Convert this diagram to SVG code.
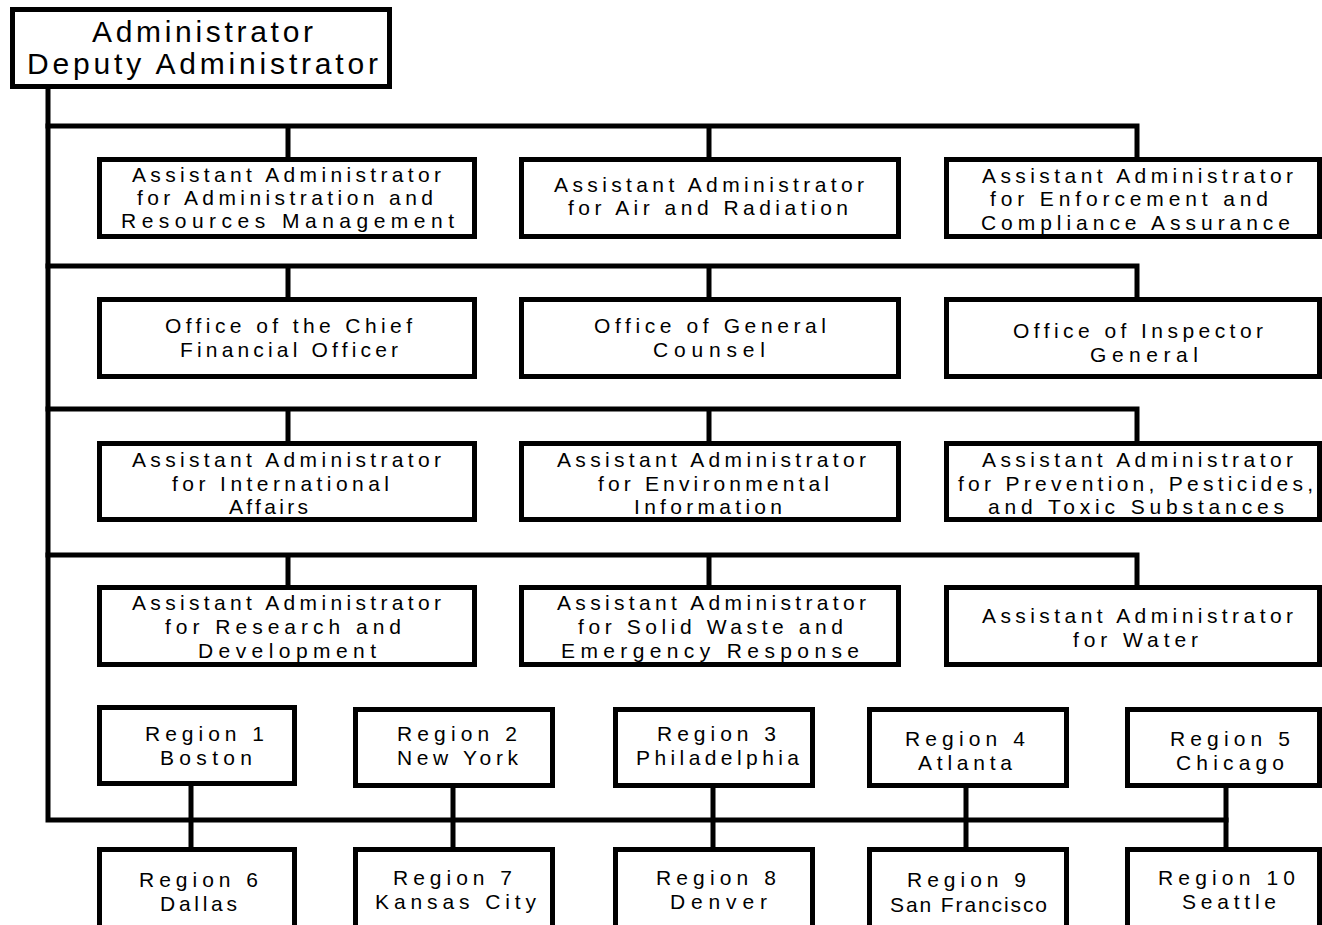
<svg xmlns="http://www.w3.org/2000/svg" width="1322" height="925" viewBox="0 0 1322 925">
<style>
.b{fill:#fff;stroke:#000;stroke-width:5}
.c{fill:none;stroke:#000;stroke-width:5;stroke-linecap:square}
.t{font-family:"Liberation Sans",Arial,sans-serif;font-size:21px;fill:#000}
.h{font-family:"Liberation Sans",Arial,sans-serif;font-size:30px;fill:#000}
</style>
<rect width="1322" height="925" fill="#fff"/>
<g id="connectors">
<path class="c" d="M48 89 V820 H1226"/>
<path class="c" d="M48 126 H1137 V157 M288 126 V157 M709 126 V157"/>
<path class="c" d="M48 266 H1137 V297 M288 266 V297 M709 266 V297"/>
<path class="c" d="M48 409 H1137 V441 M288 409 V441 M709 409 V441"/>
<path class="c" d="M48 555 H1137 V585 M288 555 V585 M709 555 V585"/>
<path class="c" d="M191 786 V847 M453 786 V847 M713 786 V847 M966 786 V847 M1226 786 V847"/>
</g>
<g id="admin">
<rect class="b" x="12.5" y="9.5" width="377" height="77"/>
<text class="h" x="92" y="42" textLength="221" lengthAdjust="spacing">Administrator</text>
<text class="h" x="27" y="74" textLength="351" lengthAdjust="spacing">Deputy Administrator</text>
</g>
<g id="aa-arm">
<rect class="b" x="99.5" y="159.5" width="375" height="77"/>
<text class="t" x="132" y="182" textLength="309" lengthAdjust="spacing">Assistant Administrator</text>
<text class="t" x="137" y="205" textLength="296" lengthAdjust="spacing">for Administration and</text>
<text class="t" x="121" y="228" textLength="333" lengthAdjust="spacing">Resources Management</text>
</g>
<g id="aa-air">
<rect class="b" x="521.5" y="159.5" width="377" height="77"/>
<text class="t" x="554" y="192" textLength="310" lengthAdjust="spacing">Assistant Administrator</text>
<text class="t" x="568" y="215" textLength="280" lengthAdjust="spacing">for Air and Radiation</text>
</g>
<g id="aa-eca">
<rect class="b" x="946.5" y="159.5" width="373" height="77"/>
<text class="t" x="982" y="183" textLength="311" lengthAdjust="spacing">Assistant Administrator</text>
<text class="t" x="990" y="206" textLength="278" lengthAdjust="spacing">for Enforcement and</text>
<text class="t" x="981" y="230" textLength="309" lengthAdjust="spacing">Compliance Assurance</text>
</g>
<g id="cfo">
<rect class="b" x="99.5" y="299.5" width="375" height="77"/>
<text class="t" x="165" y="333" textLength="247" lengthAdjust="spacing">Office of the Chief</text>
<text class="t" x="180" y="357" textLength="218" lengthAdjust="spacing">Financial Officer</text>
</g>
<g id="ogc">
<rect class="b" x="521.5" y="299.5" width="377" height="77"/>
<text class="t" x="594" y="333" textLength="232" lengthAdjust="spacing">Office of General</text>
<text class="t" x="653" y="357" textLength="112" lengthAdjust="spacing">Counsel</text>
</g>
<g id="oig">
<rect class="b" x="946.5" y="299.5" width="373" height="77"/>
<text class="t" x="1013" y="338" textLength="250" lengthAdjust="spacing">Office of Inspector</text>
<text class="t" x="1090" y="362" textLength="108" lengthAdjust="spacing">General</text>
</g>
<g id="aa-ia">
<rect class="b" x="99.5" y="443.5" width="375" height="76"/>
<text class="t" x="132" y="467" textLength="309" lengthAdjust="spacing">Assistant Administrator</text>
<text class="t" x="172" y="491" textLength="217" lengthAdjust="spacing">for International</text>
<text class="t" x="229" y="514" textLength="79" lengthAdjust="spacing">Affairs</text>
</g>
<g id="aa-ei">
<rect class="b" x="521.5" y="443.5" width="377" height="76"/>
<text class="t" x="557" y="467" textLength="309" lengthAdjust="spacing">Assistant Administrator</text>
<text class="t" x="598" y="491" textLength="231" lengthAdjust="spacing">for Environmental</text>
<text class="t" x="634" y="514" textLength="148" lengthAdjust="spacing">Information</text>
</g>
<g id="aa-ppts">
<rect class="b" x="946.5" y="443.5" width="373" height="76"/>
<text class="t" x="982" y="467" textLength="311" lengthAdjust="spacing">Assistant Administrator</text>
<text class="t" x="958" y="491" textLength="355" lengthAdjust="spacing">for Prevention, Pesticides,</text>
<text class="t" x="988" y="514" textLength="296" lengthAdjust="spacing">and Toxic Substances</text>
</g>
<g id="aa-rd">
<rect class="b" x="99.5" y="587.5" width="375" height="77"/>
<text class="t" x="132" y="610" textLength="309" lengthAdjust="spacing">Assistant Administrator</text>
<text class="t" x="165" y="634" textLength="236" lengthAdjust="spacing">for Research and</text>
<text class="t" x="198" y="658" textLength="178" lengthAdjust="spacing">Development</text>
</g>
<g id="aa-swer">
<rect class="b" x="521.5" y="587.5" width="377" height="77"/>
<text class="t" x="557" y="610" textLength="309" lengthAdjust="spacing">Assistant Administrator</text>
<text class="t" x="578" y="634" textLength="265" lengthAdjust="spacing">for Solid Waste and</text>
<text class="t" x="561" y="658" textLength="298" lengthAdjust="spacing">Emergency Response</text>
</g>
<g id="aa-water">
<rect class="b" x="946.5" y="587.5" width="373" height="77"/>
<text class="t" x="982" y="623" textLength="311" lengthAdjust="spacing">Assistant Administrator</text>
<text class="t" x="1073" y="647" textLength="125" lengthAdjust="spacing">for Water</text>
</g>
<g id="region1">
<rect class="b" x="99.5" y="707.5" width="195" height="76"/>
<text class="t" x="145" y="741" textLength="119" lengthAdjust="spacing">Region 1</text>
<text class="t" x="160" y="765" textLength="92" lengthAdjust="spacing">Boston</text>
</g>
<g id="region2">
<rect class="b" x="355.5" y="709.5" width="197" height="76"/>
<text class="t" x="397" y="741" textLength="120" lengthAdjust="spacing">Region 2</text>
<text class="t" x="397" y="765" textLength="121" lengthAdjust="spacing">New York</text>
</g>
<g id="region3">
<rect class="b" x="615.5" y="709.5" width="197" height="76"/>
<text class="t" x="657" y="741" textLength="119" lengthAdjust="spacing">Region 3</text>
<text class="t" x="636" y="765" textLength="163" lengthAdjust="spacing">Philadelphia</text>
</g>
<g id="region4">
<rect class="b" x="869.5" y="709.5" width="197" height="76"/>
<text class="t" x="905" y="746" textLength="120" lengthAdjust="spacing">Region 4</text>
<text class="t" x="918" y="770" textLength="94" lengthAdjust="spacing">Atlanta</text>
</g>
<g id="region5">
<rect class="b" x="1127.5" y="709.5" width="192" height="76"/>
<text class="t" x="1170" y="746" textLength="120" lengthAdjust="spacing">Region 5</text>
<text class="t" x="1176" y="770" textLength="108" lengthAdjust="spacing">Chicago</text>
</g>
<g id="region6">
<rect class="b" x="99.5" y="849.5" width="195" height="90"/>
<text class="t" x="139" y="887" textLength="119" lengthAdjust="spacing">Region 6</text>
<text class="t" x="160" y="911" textLength="77" lengthAdjust="spacing">Dallas</text>
</g>
<g id="region7">
<rect class="b" x="355.5" y="849.5" width="197" height="90"/>
<text class="t" x="393" y="885" textLength="119" lengthAdjust="spacing">Region 7</text>
<text class="t" x="375" y="909" textLength="161" lengthAdjust="spacing">Kansas City</text>
</g>
<g id="region8">
<rect class="b" x="615.5" y="849.5" width="197" height="90"/>
<text class="t" x="656" y="885" textLength="120" lengthAdjust="spacing">Region 8</text>
<text class="t" x="670" y="909" textLength="97" lengthAdjust="spacing">Denver</text>
</g>
<g id="region9">
<rect class="b" x="869.5" y="849.5" width="197" height="90"/>
<text class="t" x="907" y="887" textLength="119" lengthAdjust="spacing">Region 9</text>
<text class="t" x="890" y="912" textLength="157" lengthAdjust="spacing">San Francisco</text>
</g>
<g id="region10">
<rect class="b" x="1127.5" y="849.5" width="192" height="90"/>
<text class="t" x="1158" y="885" textLength="137" lengthAdjust="spacing">Region 10</text>
<text class="t" x="1182" y="909" textLength="94" lengthAdjust="spacing">Seattle</text>
</g>
</svg>
